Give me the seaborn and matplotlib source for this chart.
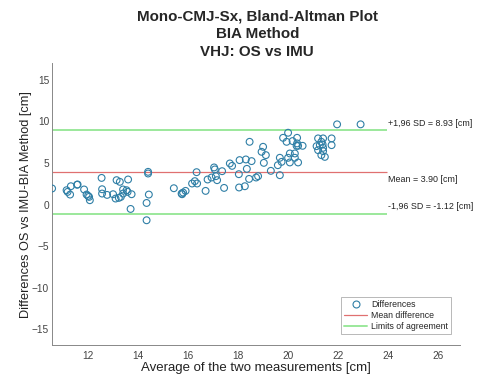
import matplotlib
matplotlib.use("Agg")
import matplotlib.pyplot as plt
from matplotlib.lines import Line2D
import seaborn as sns
import pandas as pd

# ---- data ----
averages = [10.56, 11.14, 11.18, 11.31, 11.28, 11.58, 11.56, 11.84, 11.94, 12.04, 12.07, 12.00,
            12.54, 12.56, 12.56, 12.76, 13.00, 13.10, 13.14, 13.27, 13.23, 13.31, 13.40, 13.54,
            13.58, 13.40, 13.60, 13.74, 13.70, 14.40, 14.40, 14.43, 14.34, 14.34,
            15.43, 15.74, 15.80, 15.90, 15.76, 16.16, 16.27, 16.36, 16.34, 16.70, 16.78, 16.94,
            17.04, 17.07, 17.11, 17.16, 17.36, 17.44, 17.67, 17.76, 18.03, 18.06, 18.04, 18.27,
            18.31, 18.35, 18.46, 18.54, 18.44, 18.72, 18.80, 19.00, 18.94, 19.11, 19.03, 19.31,
            21.96, 22.90, 20.00, 19.80, 19.94, 20.18, 20.36, 20.36, 20.34, 20.40, 20.58, 20.07,
            20.27, 20.00, 19.67, 19.59, 19.74, 20.07, 20.27, 20.40, 19.67, 21.20, 21.40, 21.33,
            21.14, 21.27, 21.38, 21.40, 21.74, 21.74, 21.20, 21.40, 21.33, 21.47]
differences = [1.93, 1.72, 1.52, 2.20, 1.20, 2.41, 2.38, 1.81, 1.20, 0.92, 0.52, 1.04,
               3.20, 1.84, 1.32, 1.16, 1.24, 0.72, 2.93, 2.73, 0.80, 0.92, 1.81, 1.72,
               1.52, 1.32, 3.01, 1.24, -0.53, 3.93, 3.73, 1.20, 0.19, -1.89,
               1.96, 1.32, 1.44, 1.64, 1.24, 2.53, 2.81, 2.53, 3.89, 1.64, 3.01, 3.25,
               4.46, 4.22, 3.41, 2.93, 4.01, 2.00, 4.94, 4.65, 3.65, 5.34, 2.05, 2.20,
               5.42, 4.29, 7.54, 5.22, 3.08, 3.25, 3.41, 6.94, 6.34, 5.94, 5.01, 4.05,
               9.64, 9.64, 8.63, 8.02, 7.54, 7.63, 8.02, 7.35, 7.06, 7.06, 7.06, 6.14,
               6.14, 5.62, 5.62, 4.73, 5.13, 5.06, 5.62, 5.06, 3.53, 7.95, 7.95, 7.54,
               7.02, 7.14, 7.23, 6.82, 7.95, 7.14, 6.54, 6.42, 5.94, 5.73]
mean_diff = 3.90
upper_loa = 8.93
lower_loa = -1.12
line_end = 23.94
xticks = [12, 14, 16, 18, 20, 22, 24, 26]
yticks = [-15, -10, -5, 0, 5, 10, 15]

df = pd.DataFrame({"avg": averages, "diff": differences})

sns.set_theme(style="white")
plt.rcParams["font.family"] = ["Liberation Sans", "DejaVu Sans"]

fig = plt.figure(figsize=(4.8, 3.78), dpi=100)
ax = fig.add_axes([0.108, 0.087, 0.85, 0.746])

xlim = (10.55, 26.87)
ylim = (-16.9, 17.0)

pt_color = "#2f7fa6"
sns.scatterplot(data=df, x="avg", y="diff", ax=ax, marker="o", s=24,
                facecolor="none", edgecolor=pt_color, linewidth=0.8, zorder=3)

red = "#e07070"
green = "#9be89b"
ax.hlines(mean_diff, xlim[0], line_end, color=red, lw=0.9, zorder=2)
ax.hlines([upper_loa, lower_loa], xlim[0], line_end, color=green, lw=1.4, zorder=2)

fs = 6.4
ax.text(line_end + 0.05, upper_loa + 0.3, f"+1,96 SD = {upper_loa:.2f} [cm]", fontsize=fs,
        va="bottom", ha="left", color="#222222")
ax.text(line_end + 0.05, mean_diff - 0.35, f"Mean = {mean_diff:.2f} [cm]", fontsize=fs,
        va="top", ha="left", color="#222222")
ax.text(line_end + 0.05, lower_loa + 0.3, f"-1,96 SD = {lower_loa:.2f} [cm]", fontsize=fs,
        va="bottom", ha="left", color="#222222")

ax.set_xlim(*xlim)
ax.set_ylim(*ylim)
ax.set_xticks(xticks)
ax.set_yticks(yticks)
ax.tick_params(direction="in", length=3, width=0.5, colors="#777777",
               labelsize=7.3, labelcolor="#444444")
ax.tick_params(axis="x", pad=4)
ax.tick_params(axis="y", pad=2)
for s in ["top", "right"]:
    ax.spines[s].set_visible(False)
for s in ["left", "bottom"]:
    ax.spines[s].set_color("#888888")
    ax.spines[s].set_linewidth(0.7)

ax.set_xlabel("Average of the two measurements [cm]", fontsize=9.5, color="#222222", labelpad=1)
ax.set_ylabel("Differences OS vs IMU-BIA Method [cm]", fontsize=9.2, color="#222222", labelpad=0)
fig.suptitle("Mono-CMJ-Sx, Bland-Altman Plot\nBIA Method\nVHJ: OS vs IMU",
             fontsize=10.9, fontweight="bold", x=0.536, y=0.975, linespacing=1.33)

handles = [Line2D([], [], marker="o", ls="none", mfc="none", mec=pt_color, ms=5, mew=0.8),
           Line2D([], [], color=red, lw=0.9),
           Line2D([], [], color=green, lw=1.4)]
leg = ax.legend(handles, ["Differences", "Mean difference", "Limits of agreement"],
                loc="lower right", bbox_to_anchor=(0.99, 0.025), fontsize=6.3, frameon=True,
                fancybox=False, edgecolor="#999999", handlelength=2.6, borderpad=0.35,
                labelspacing=0.2, handletextpad=0.5)
leg.get_frame().set_linewidth(0.6)

fig.savefig("out.png", dpi=100)
